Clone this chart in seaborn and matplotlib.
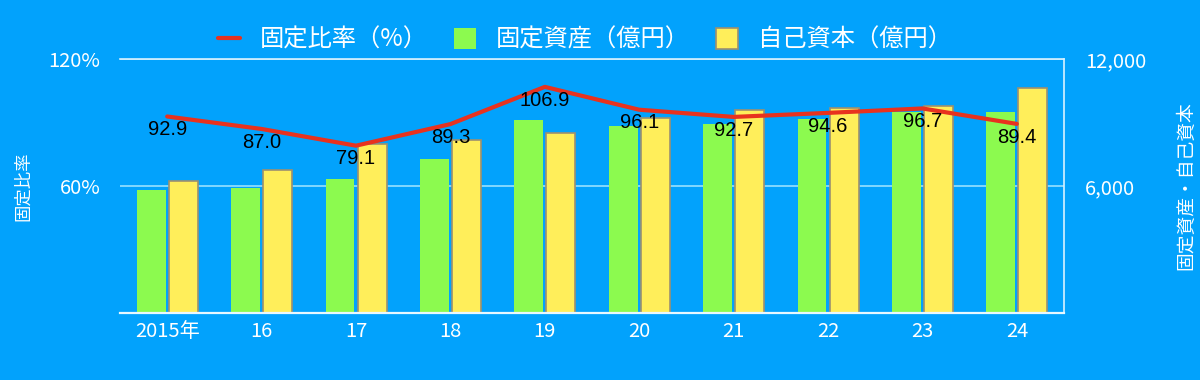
import matplotlib
matplotlib.use("Agg")
import matplotlib.pyplot as plt
import seaborn as sns
import pandas as pd
from matplotlib.ticker import FuncFormatter

# Fiscal years and values
years = ["2015年", "16", "17", "18", "19", "20", "21", "22", "23", "24"]
fixed_ratio = [92.9, 87.0, 79.1, 89.3, 106.9, 96.1, 92.7, 94.6, 96.7, 89.4]
fixed_assets = [5800, 5900, 6330, 7300, 9110, 8840, 8920, 9180, 9480, 9520]
equity = [6240, 6780, 8000, 8180, 8520, 9200, 9620, 9700, 9800, 10650]

ratio_label = "固定比率（%）"
assets_label = "固定資産（億円）"
equity_label = "自己資本（億円）"

BG = "#02a2fc"
GREEN = "#8cfa4f"
YELLOW = "#ffee5a"
RED = "#e8321e"
WHITE = "white"
FONT = ["Noto Sans CJK JP", "DejaVu Sans"]

sns.set_theme(style="white")
plt.rcParams["font.family"] = FONT

bars = pd.DataFrame({
    "year": years * 2,
    "value": fixed_assets + equity,
    "series": [assets_label] * len(years) + [equity_label] * len(years),
})
line = pd.DataFrame({"year": years, "ratio": fixed_ratio})

fig = plt.figure(figsize=(12, 3.8), dpi=100, facecolor=BG)
ax = fig.add_axes([0.1, 0.1763, 0.7867, 0.668])
ax2 = ax.twinx()

# Bars on the right-hand axis
sns.barplot(data=bars, x="year", y="value", hue="series", ax=ax2,
            palette=[GREEN, YELLOW], width=0.68, gap=0.1, saturation=1,
            order=years, legend=True)
for patch in ax2.patches:
    if patch.get_facecolor()[:3] == matplotlib.colors.to_rgb(YELLOW):
        patch.set_edgecolor("#9c9070")
        patch.set_linewidth(1.2)
    else:
        patch.set_edgecolor("none")

ax2.set_ylim(0, 12000)
ax2.set_yticks([6000, 12000])
ax2.yaxis.set_major_formatter(FuncFormatter(lambda v, p: f"{v:,.0f}"))
ax2.set_axisbelow(True)
ax2.grid(axis="y", color="#8cdcff", linewidth=1.3)
ax2.grid(axis="x", visible=False)
ax2.set_ylabel("固定資産・自己資本", color=WHITE, fontsize=13.5, labelpad=21)
ax2.tick_params(axis="y", colors=WHITE, labelsize=14.5, length=0, pad=15)
ax2.set_facecolor(BG)

# Ratio line on the left-hand axis, drawn above the bars
ax.set_zorder(ax2.get_zorder() + 1)
ax.patch.set_visible(False)
sns.lineplot(data=line, x="year", y="ratio", ax=ax, color=RED, linewidth=3,
             label=ratio_label, sort=False)
for i, v in enumerate(fixed_ratio):
    ax.annotate(f"{v:.1f}", (i, v), xytext=(0, -9.5), textcoords="offset points",
                ha="center", va="center", fontsize=14.5, color="black",
                family=["Liberation Sans", "DejaVu Sans"])

ax.set_ylim(0, 120)
ax.set_yticks([60, 120])
ax.yaxis.set_major_formatter(FuncFormatter(lambda v, p: f"{v:.0f}%"))
ax.set_xlim(-0.5, len(years) - 0.5)
ax.set_xlabel("")
ax.set_ylabel("固定比率", color=WHITE, fontsize=12.5, labelpad=12)
ax.tick_params(axis="y", colors=WHITE, labelsize=14.5, length=0, pad=14)
ax.tick_params(axis="x", colors=WHITE, labelsize=14.5, length=0, pad=6)
ax2.set_xlabel("")

for a in (ax, ax2):
    for side in ("left", "top", "right", "bottom"):
        a.spines[side].set_visible(False)
ax2.spines["right"].set_visible(True)
ax2.spines["right"].set_color("#d8f2ff")
ax2.spines["right"].set_linewidth(1.2)
ax2.spines["top"].set_visible(True)
ax2.spines["top"].set_color("#d8f2ff")
ax2.spines["top"].set_linewidth(1.2)
ax2.spines["bottom"].set_visible(True)
ax2.spines["bottom"].set_color("#e8f8ff")
ax2.spines["bottom"].set_linewidth(1.6)

# Shared legend across the top
h1, l1 = ax.get_legend_handles_labels()
h2, l2 = ax2.get_legend_handles_labels()
ax.get_legend().remove()
ax2.get_legend().remove()
fig.legend(h1 + h2, l1 + l2, loc="center", bbox_to_anchor=(0.4875, 0.895),
           ncol=3, frameon=False, fontsize=17.5, labelcolor=WHITE,
           handlelength=0.9, handleheight=0.9, handletextpad=0.8,
           columnspacing=1.1)

fig.savefig("out.png", dpi=100, facecolor=BG)
